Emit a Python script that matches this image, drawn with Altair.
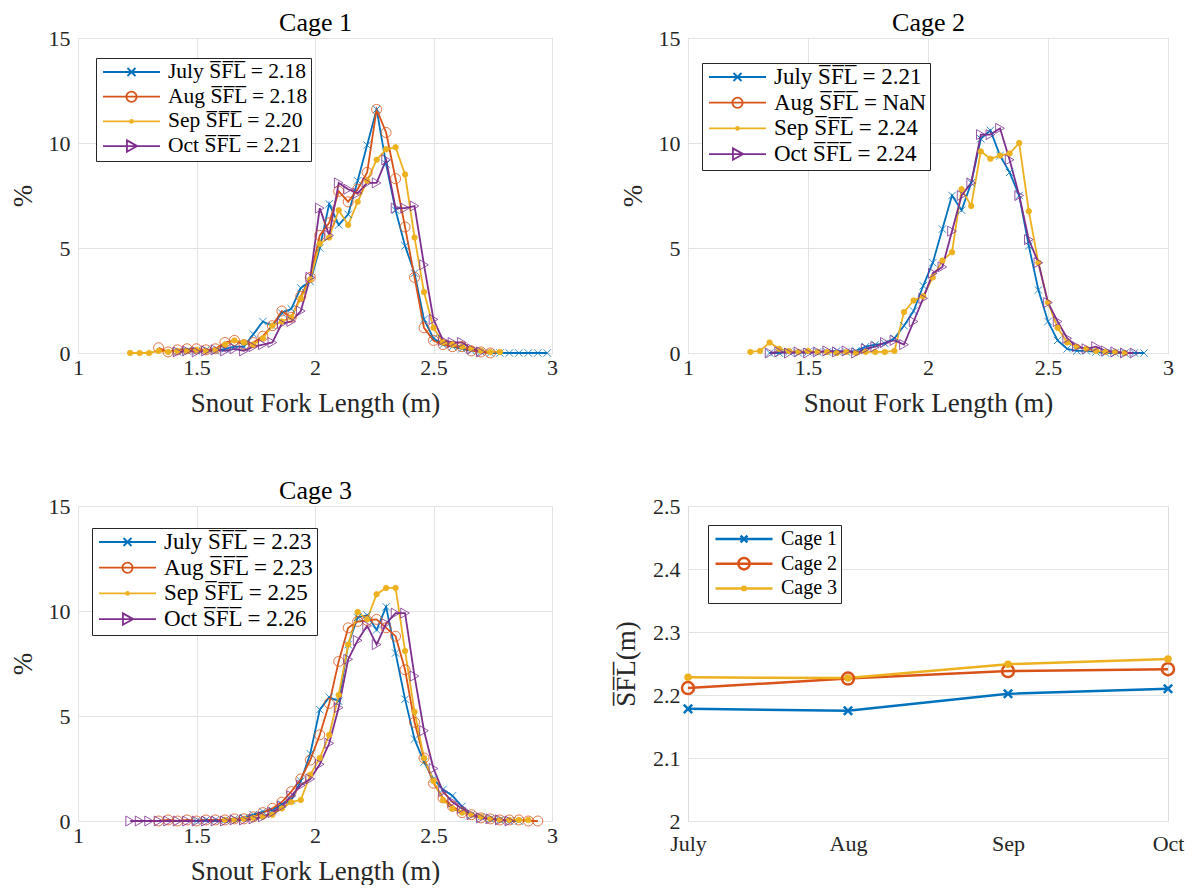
import altair as alt
import pandas as pd

FONT = "Liberation Serif"
OVL = "S\u0305F\u0305L\u0305"
MONTHS = ["July", "Aug", "Sep", "Oct"]
COLORS = ["#0072BD", "#D95319", "#EDB120", "#7E2F8E"]

BINS = [1.22, 1.26, 1.30, 1.34, 1.38, 1.42, 1.46, 1.50, 1.54, 1.58, 1.62, 1.66,
        1.70, 1.74, 1.78, 1.82, 1.86, 1.90, 1.94, 1.98, 2.02, 2.06, 2.10, 2.14,
        2.18, 2.22, 2.26, 2.30, 2.34, 2.38, 2.42, 2.46, 2.50, 2.54, 2.58, 2.62,
        2.66, 2.70, 2.74, 2.78, 2.82, 2.86, 2.90, 2.94, 2.98]

C1_START = [1.42, 1.34, 1.22, 1.42]
C1_JULY = [0.05, 0.1, 0.1, 0.15, 0.1, 0.2, 0.3, 0.3, 0.9, 1.5, 1.3, 1.9, 2.1, 3.1, 3.4,
           5.0, 7.1, 6.1, 6.6, 8.2, 9.9, 11.6, 9.0, 6.8, 5.1, 3.8, 1.6, 0.7, 0.4, 0.3,
           0.2, 0.1, 0.05, 0, 0, 0, 0, 0, 0, 0]
C1_AUG = [0.25, 0.05, 0.15, 0.2, 0.2, 0.15, 0.2, 0.5, 0.6, 0.4, 0.5, 0.8, 1.3, 2.0, 1.7,
          2.7, 3.6, 5.6, 6.2, 7.7, 7.2, 7.8, 8.6, 11.6, 10.5, 8.3, 6.0, 3.6, 1.2, 0.6,
          0.4, 0.3, 0.3, 0.1, 0.05, 0.0]
C1_SEP = [0, 0, 0, 0.1, 0.05, 0.1, 0.1, 0.15, 0.1, 0.15, 0.4, 0.6, 0.5, 0.4, 0.7, 1.3,
          1.5, 1.7, 2.6, 3.5, 5.2, 5.5, 6.8, 6.1, 7.2, 8.2, 9.2, 9.7, 9.8, 8.5, 5.5, 2.9,
          1.2, 0.5, 0.4, 0.3, 0.2, 0.1, 0.05, 0.05]
C1_OCT = [0.05, 0.1, 0.05, 0.1, 0.15, 0.1, 0.2, 0.1, 0.3, 0.4, 0.5, 1.4, 1.5, 2.0, 3.6,
          6.9, 5.6, 8.1, 7.8, 7.6, 8.1, 8.1, 9.2, 6.9, 6.9, 7.0, 4.2, 1.6, 0.6, 0.5, 0.5,
          0.2, 0.05]
C1_MEANS = ["2.18", "2.18", "2.20", "2.21"]

C2_START = [1.34, None, 1.26, 1.34]
C2_JULY = [0, 0, 0.05, 0, 0.05, 0.05, 0.05, 0.1, 0.05, 0.1, 0.3, 0.4, 0.45, 0.7, 1.3,
           2.0, 3.2, 4.3, 5.9, 7.5, 6.8, 8.1, 10.2, 10.6, 9.4, 8.6, 7.5, 5.1, 3.0, 1.5,
           0.6, 0.2, 0.1, 0.1, 0.05, 0, 0, 0, 0, 0]
C2_AUG = []
C2_SEP = [0.05, 0.1, 0.5, 0.2, 0.1, 0.05, 0.1, 0.05, 0.05, 0.0, 0.05, 0.0, 0.05, 0.05,
          0.05, 0.1, 1.95, 2.5, 2.7, 3.6, 4.4, 4.8, 7.8, 7.0, 9.6, 9.25, 9.4, 9.5, 10.0,
          6.75, 4.3, 2.4, 1.2, 0.5, 0.3, 0.2, 0.1, 0.05, 0.05, 0.0]
C2_OCT = [0.0, 0.05, 0.0, 0.05, 0.0, 0.05, 0.1, 0.05, 0.1, 0.0, 0.2, 0.3, 0.5, 0.6, 0.4,
          1.5, 2.6, 3.8, 4.1, 5.8, 7.5, 8.1, 10.4, 10.4, 10.7, 9.2, 7.5, 5.4, 4.3, 2.4,
          1.5, 0.7, 0.3, 0.2, 0.3, 0.1, 0.05, 0.0, 0.0]
C2_MEANS = ["2.21", "NaN", "2.24", "2.24"]

C3_START = [1.50, 1.34, 1.62, 1.22]
C3_JULY = [0.0, 0.05, 0.05, 0.05, 0.1, 0.15, 0.3, 0.45, 0.5, 0.8, 1.0, 1.9, 3.2, 5.3,
           5.9, 5.7, 8.4, 9.7, 9.8, 9.1, 10.2, 8.0, 5.8, 3.9, 2.8, 2.0, 1.5, 1.2, 0.7,
           0.3, 0.2, 0.1, 0.05, 0.0, 0.0]
C3_AUG = [0.0, 0.05, 0.0, 0.05, 0.0, 0.05, 0.05, 0.05, 0.1, 0.1, 0.2, 0.4, 0.6, 0.9, 1.4,
          2.0, 2.9, 4.1, 5.6, 7.6, 9.2, 9.5, 9.55, 9.6, 9.2, 8.8, 7.2, 4.7, 3.0, 1.8, 1.1,
          0.7, 0.4, 0.3, 0.15, 0.1, 0.05, 0.05, 0.05, 0.0, 0.0]
C3_SEP = [0.05, 0.05, 0.1, 0.15, 0.2, 0.3, 0.6, 0.9, 1.0, 2.2, 3.0, 4.1, 6.0, 8.4, 9.95,
          9.6, 10.8, 11.1, 11.1, 8.1, 5.2, 3.0, 1.9, 1.0, 0.6, 0.4, 0.3, 0.2, 0.1, 0.05,
          0.05, 0.05, 0.05]
C3_OCT = [0.0, 0.0, 0.0, 0.0, 0.0, 0.0, 0.0, 0.0, 0.0, 0.0, 0.0, 0.05, 0.05, 0.1, 0.2,
          0.4, 0.7, 1.2, 1.7, 2.0, 2.7, 3.7, 5.4, 7.7, 8.6, 9.3, 8.4, 9.4, 9.9, 9.9, 6.9,
          4.3, 2.5, 1.4, 0.9, 0.6, 0.3, 0.15, 0.1, 0.05, 0.0]
C3_MEANS = ["2.23", "2.23", "2.25", "2.26"]

CAGES = ["Cage 1", "Cage 2", "Cage 3"]
CAGE1_SFL = [2.178, 2.175, 2.202, 2.210]
CAGE2_SFL = [2.211, 2.226, 2.238, 2.241]
CAGE3_SFL = [2.228, 2.227, 2.249, 2.257]

PANELS = [
    (C1_START, [C1_JULY, C1_AUG, C1_SEP, C1_OCT], C1_MEANS),
    (C2_START, [C2_JULY, C2_AUG, C2_SEP, C2_OCT], C2_MEANS),
    (C3_START, [C3_JULY, C3_AUG, C3_SEP, C3_OCT], C3_MEANS),
]

rows = []
panel_labels = []
for p, (starts, series, means) in enumerate(PANELS):
    labels = [f"{m} {OVL} = {mv}" for m, mv in zip(MONTHS, means)]
    panel_labels.append(labels)
    for m, s, vals, lab in zip(MONTHS, starts, series, labels):
        if s is None:
            continue
        i0 = BINS.index(s)
        for i, v in enumerate(vals):
            rows.append({"panel": p, "label": lab, "x": BINS[i0 + i], "pct": v})
hist_df = pd.DataFrame(rows)

sfl_rows = []
for cage, vals in zip(CAGES, [CAGE1_SFL, CAGE2_SFL, CAGE3_SFL]):
    for m, v in zip(MONTHS, vals):
        sfl_rows.append({"cage": cage, "month": m, "sfl": v})
sfl_df = pd.DataFrame(sfl_rows)

X_PATH = "M-1,-1L1,1M-1,1L1,-1"
MARKERS = [X_PATH, "circle", "circle", "triangle-right"]
SIZES = [55, 100, 30, 100]
FILLS = ["transparent", "transparent", COLORS[2], "transparent"]
LEG_PATHS = [
    "M-1,0H1M-0.14,-0.14L0.14,0.14M-0.14,0.14L0.14,-0.14",
    "M-1,0H1M0.18,0A0.18,0.18 0 1,1 -0.18,0A0.18,0.18 0 1,1 0.18,0",
    "M-1,0H1M0.05,0A0.05,0.05 0 1,1 -0.05,0A0.05,0.05 0 1,1 0.05,0",
    "M-1,0H1M-0.16,-0.2L0.2,0L-0.16,0.2Z",
]

AX_COMMON = dict(labelFont=FONT, labelFontSize=22, labelColor="#262626",
                 titleFont=FONT, titleFontSize=27, titleFontWeight="normal",
                 titleColor="#262626", ticks=False, tickSize=0, domain=False,
                 labelFlush=False, gridColor="#e3e3e3", gridWidth=1)


def legend_params(lx, ly, fs, sw):
    return alt.Legend(title=None, orient="none", legendX=lx, legendY=ly,
                      direction="vertical", symbolSize=3249, clipHeight=22,
                      rowPadding=2.7, padding=3, symbolOffset=3, labelOffset=7,
                      labelFont=FONT, labelFontSize=fs, labelColor="black",
                      labelLimit=500, strokeColor="#262626", fillColor="white",
                      symbolStrokeWidth=sw, cornerRadius=0)


def oscale(domain, rng):
    return alt.Scale(type="ordinal", domain=domain, range=rng)


def hist_panel(p, title, width, lx, ly, fs):
    labels = panel_labels[p]
    d = hist_df[hist_df["panel"] == p]
    base = alt.Chart(d)
    xscale = alt.Scale(domain=[1, 3], nice=False)
    x = alt.X("x:Q", scale=xscale,
              axis=alt.Axis(values=[1, 1.5, 2, 2.5, 3], format="~g",
                            title="Snout Fork Length (m)", labelPadding=4,
                            titlePadding=12, **AX_COMMON))
    x_plain = alt.X("x:Q", scale=xscale, axis=None)
    x_top = alt.X("x:Q", scale=xscale,
                  axis=alt.Axis(orient="top", title=title, labels=False, ticks=False,
                                domain=False, grid=False, titleFont=FONT,
                                titleFontSize=26, titleFontWeight="normal",
                                titleColor="black", titlePadding=3))
    y = alt.Y("pct:Q", scale=alt.Scale(domain=[0, 15], nice=False),
              axis=alt.Axis(values=[0, 5, 10, 15], format="~g", title="%",
                            labelPadding=8, titlePadding=11, **AX_COMMON))
    lines = base.mark_line(strokeWidth=1.8).encode(
        x=x, y=y,
        color=alt.Color("label:N", scale=oscale(labels, COLORS), legend=None))
    points = base.mark_point(strokeWidth=0.8, opacity=1).encode(
        x=x_plain, y=y,
        shape=alt.Shape("label:N", scale=oscale(labels, MARKERS), legend=None),
        stroke=alt.Stroke("label:N", scale=oscale(labels, COLORS), legend=None),
        fill=alt.Fill("label:N", scale=oscale(labels, FILLS), legend=None),
        size=alt.Size("label:N", scale=oscale(labels, SIZES), legend=None))
    leg = legend_params(lx, ly, fs, 1.8)
    legend = base.transform_filter("false").mark_point(opacity=1, filled=False).encode(
        x=x_top, y=y,
        color=alt.Color("label:N", scale=oscale(labels, COLORS), legend=leg),
        shape=alt.Shape("label:N", scale=oscale(labels, LEG_PATHS), legend=leg))
    return alt.layer(lines, points, legend).resolve_scale(
        color="independent", shape="independent", stroke="independent",
        fill="independent", size="independent").resolve_axis(
        x="independent").properties(width=width, height=315)


p1 = hist_panel(0, "Cage 1", 474, 18, 20, 21.5)
p2 = hist_panel(1, "Cage 2", 480, 14, 25, 23)
p3 = hist_panel(2, "Cage 3", 474, 14, 22, 23)

CAGE_SHAPES = [X_PATH, "circle", "circle"]
CAGE_SIZES = [70, 144, 25]
CAGE_FILLS = ["transparent", "transparent", COLORS[2]]
CAGE_COLORS = COLORS[:3]
CAGE_LEG = [
    "M-1,0H1M-0.12,-0.12L0.12,0.12M-0.12,0.12L0.12,-0.12",
    "M-1,0H1M0.2,0A0.2,0.2 0 1,1 -0.2,0A0.2,0.2 0 1,1 0.2,0",
    "M-1,0H1M0.06,0A0.06,0.06 0 1,1 -0.06,0A0.06,0.06 0 1,1 0.06,0",
]
b4 = alt.Chart(sfl_df)
x4 = alt.X("month:O", sort=MONTHS, scale=alt.Scale(type="point", padding=0),
           axis=alt.Axis(labelAngle=0, title=None, labelPadding=12, **AX_COMMON))
y4 = alt.Y("sfl:Q", scale=alt.Scale(domain=[2, 2.5], nice=False),
           axis=alt.Axis(values=[2, 2.1, 2.2, 2.3, 2.4, 2.5], format="~g",
                         title=OVL + "(m)", labelPadding=8, titlePadding=12,
                         **AX_COMMON))
l4 = b4.mark_line(strokeWidth=2.5).encode(
    x=x4, y=y4,
    color=alt.Color("cage:N", scale=oscale(CAGES, CAGE_COLORS), legend=None))
pt4 = b4.mark_point(strokeWidth=2.5, opacity=1).encode(
    x=x4, y=y4,
    shape=alt.Shape("cage:N", scale=oscale(CAGES, CAGE_SHAPES), legend=None),
    stroke=alt.Stroke("cage:N", scale=oscale(CAGES, CAGE_COLORS), legend=None),
    fill=alt.Fill("cage:N", scale=oscale(CAGES, CAGE_FILLS), legend=None),
    size=alt.Size("cage:N", scale=oscale(CAGES, CAGE_SIZES), legend=None))
leg4 = legend_params(20, 19, 20, 2.5)
lg4 = b4.transform_filter("false").mark_point(opacity=1, filled=False).encode(
    x=x4, y=y4,
    color=alt.Color("cage:N", scale=oscale(CAGES, CAGE_COLORS), legend=leg4),
    shape=alt.Shape("cage:N", scale=oscale(CAGES, CAGE_LEG), legend=leg4))
p4 = alt.layer(l4, pt4, lg4).resolve_scale(
    color="independent", shape="independent", stroke="independent",
    fill="independent", size="independent").properties(width=480, height=315)

chart = alt.concat(p1, p2, p3, p4, columns=2, bounds="flush",
                   spacing={"row": 153, "column": 136}).properties(
    padding={"left": 0, "top": 0, "right": 0, "bottom": 0}
).configure_view(stroke="#4a4a4a", strokeWidth=1).configure(background="white")

chart.save("out.html", embed_options={"renderer": "svg", "actions": False})
